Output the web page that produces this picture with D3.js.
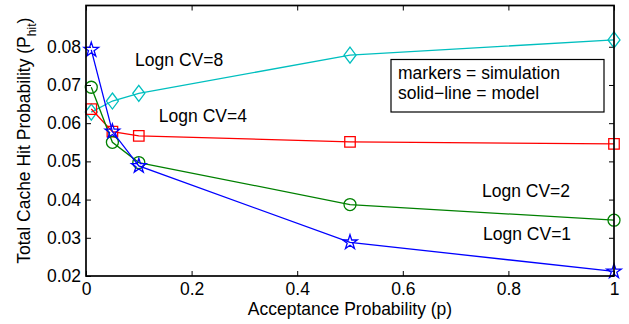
<!DOCTYPE html>
<html><head><meta charset="utf-8">
<script src="https://cdn.jsdelivr.net/npm/d3@7"></script>
<style>
body{margin:0;background:#fff}
text{font-family:"Liberation Sans",Arial,Helvetica,sans-serif}
</style>
</head><body><svg id="c" width="629" height="324"></svg>
<script>
// ---- data ----
const pValues = [0.01, 0.05, 0.1, 0.5, 1];
const cv1 = [0.0792, 0.0578, 0.0488, 0.0288, 0.0212];
const cv2 = [0.0694, 0.0550, 0.0497, 0.0387, 0.0346];
const cv4 = [0.0637, 0.0578, 0.0567, 0.0551, 0.0546];
const cv8 = [0.0629, 0.0658, 0.0678, 0.0778, 0.0818];
const seriesNames = ["Logn CV=1", "Logn CV=2", "Logn CV=4", "Logn CV=8"];
const xTicks = [0, 0.2, 0.4, 0.6, 0.8, 1];
const yTicks = [0.02, 0.03, 0.04, 0.05, 0.06, 0.07, 0.08];
const xDomain = [0, 1];
const yDomain = [0.02, 0.0908];
// annotation anchors (data units): [p, P_hit]
const labelP = [0.752, 0.750, 0.138, 0.093];
const labelY = [0.0310, 0.0422, 0.0619, 0.0765];
const legendLines = ["markers = simulation", "solid\u2212line = model"];
const xLabel = "Acceptance Probability (p)";
const yLabelMain = "Total Cache Hit Probability (P";
const yLabelSub = "hit";

// ---- layout ----
const L = 86, R = 614, T = 5.5, B = 276;
const svg = d3.select("#c");
const x = d3.scaleLinear().domain(xDomain).range([L, R]);
const y = d3.scaleLinear().domain(yDomain).range([B, T]);
const FS = 17.5;

// custom diamond symbol
const diamondSym = {draw(ctx, size){ const h = Math.sqrt(size)*0.77, w = h*0.75;
  ctx.moveTo(0,-h); ctx.lineTo(w,0); ctx.lineTo(0,h); ctx.lineTo(-w,0); ctx.closePath(); }};

const series = [
  {name: seriesNames[3], vals: cv8, color: "#00bfbf", sym: diamondSym, size: 108},
  {name: seriesNames[2], vals: cv4, color: "#ff0000", sym: d3.symbolSquare, size: 110},
  {name: seriesNames[1], vals: cv2, color: "#008000", sym: d3.symbolCircle, size: 113},
  {name: seriesNames[0], vals: cv1, color: "#0000ff", sym: d3.symbolStar, size: 66},
];

// axes with inward ticks
function styleAxis(g){ g.select(".domain").remove();
  g.selectAll("line").attr("stroke","#000").attr("stroke-width",1);
  g.selectAll("text").attr("font-size",FS).attr("fill","#000").attr("font-family",'"Liberation Sans",Arial,sans-serif'); }

svg.append("g").attr("transform",`translate(0,${B})`)
  .call(d3.axisBottom(x).tickValues(xTicks).tickSize(-5).tickPadding(7).tickFormat(d3.format("")))
  .call(styleAxis);
svg.append("g").attr("transform",`translate(0,${T})`)
  .call(d3.axisTop(x).tickValues(xTicks).tickSize(-5).tickFormat(""))
  .call(styleAxis);
svg.append("g").attr("transform",`translate(${L},0)`)
  .call(d3.axisLeft(y).tickValues(yTicks).tickSize(-5).tickPadding(5).tickFormat(d3.format(".2f")))
  .call(styleAxis);
svg.append("g").attr("transform",`translate(${R},0)`)
  .call(d3.axisRight(y).tickValues(yTicks).tickSize(-5).tickFormat(""))
  .call(styleAxis);

// series
const line = d3.line().x((d,i)=>x(pValues[i])).y(d=>y(d));
series.forEach(s=>{
  svg.append("path").datum(s.vals).attr("d",line)
    .attr("fill","none").attr("stroke",s.color).attr("stroke-width",1.3);
  svg.append("g").selectAll("path").data(s.vals).join("path")
    .attr("transform",(d,i)=>`translate(${x(pValues[i])},${y(d)})`)
    .attr("d", d3.symbol(s.sym, s.size))
    .attr("fill","none").attr("stroke",s.color).attr("stroke-width",1.3);
});

// frame
svg.append("rect").attr("x",L).attr("y",T).attr("width",R-L).attr("height",B-T)
  .attr("fill","none").attr("stroke","#000").attr("stroke-width",1.7);

// annotations
seriesNames.forEach((n,i)=>{
  svg.append("text").attr("x",x(labelP[i])).attr("y",y(labelY[i])).attr("dy","0.35em")
    .attr("font-size",FS).text(n);
});

// legend box
svg.append("rect").attr("x",391).attr("y",59.5).attr("width",213).attr("height",52.5)
  .attr("fill","#fff").attr("stroke","#000").attr("stroke-width",1.2);
legendLines.forEach((t,i)=>{
  svg.append("text").attr("x",398).attr("y",79+i*20.3).attr("font-size",FS).text(t);
});

// axis labels
svg.append("text").attr("x",(L+R)/2).attr("y",315).attr("text-anchor","middle")
  .attr("font-size",FS).text(xLabel);
const yl = svg.append("text").attr("transform",`translate(30,${(T+B)/2}) rotate(-90)`)
  .attr("text-anchor","middle").attr("font-size",FS);
yl.append("tspan").text(yLabelMain);
yl.append("tspan").attr("font-size",12).attr("dy",6).text(yLabelSub);
yl.append("tspan").attr("dy",-6).text(")");
</script></body></html>
